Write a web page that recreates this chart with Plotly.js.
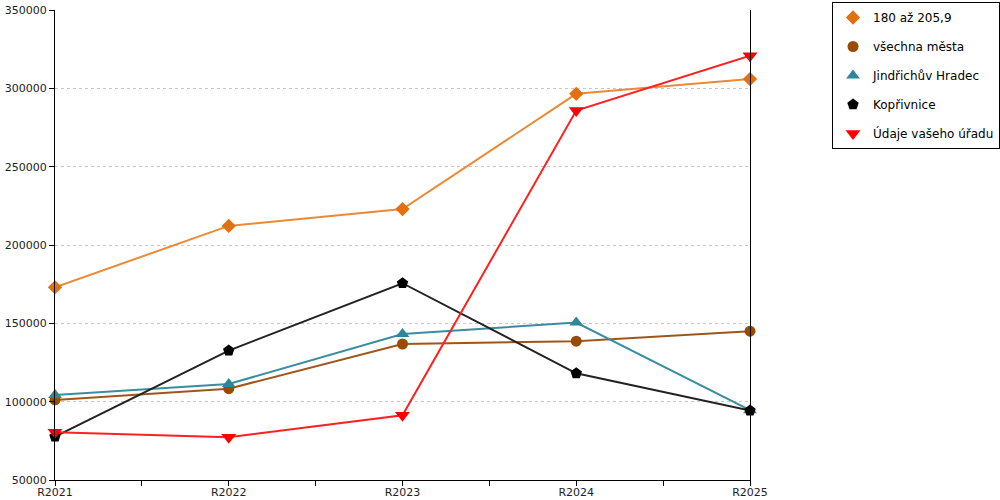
<!DOCTYPE html>
<html>
<head>
<meta charset="utf-8">
<script src="https://cdn.plot.ly/plotly-3.0.1.min.js"></script>
<style>body{margin:0;background:#fff}#chart{width:1000px;height:500px}</style>
</head>
<body>
<div id="chart"></div>
<script>
var years = ["R2021", "R2022", "R2023", "R2024", "R2025"];
var names = ["180 až 205,9", "všechna města", "Jindřichův Hradec", "Kopřivnice", "Údaje vašeho úřadu"];
var s180 = [173000, 212200, 222900, 296500, 305900];
var vsechna = [101100, 108300, 136800, 138600, 145000];
var jhradec = [104300, 111300, 143200, 150500, 94600];
var koprivnice = [77700, 132600, 175600, 118100, 94300];
var urad = [80500, 77300, 91300, 285800, 320800];

var series = [s180, vsechna, jhradec, koprivnice, urad];
var lineColors = ["#ea8a36", "#a0561a", "#3a8ca0", "#222222", "#ff2020"];
var markColors = ["#e07010", "#994c00", "#2f8599", "#000000", "#ff0000"];
var symbols = ["diamond", "circle", "triangle-up", "pentagon", "triangle-down"];
var sizes = [11, 11, 12, 12, 13];

var xs = years.map(function (y, i) { return i; });
var data = [];
// lines first so the markers sit on top
for (var i = 0; i < series.length; i++) {
    data.push({
        x: xs, y: series[i], type: "scatter", mode: "lines",
        line: {color: lineColors[i], width: 2},
        showlegend: false, hoverinfo: "skip", cliponaxis: false
    });
}
for (var i = 0; i < series.length; i++) {
    data.push({
        x: xs, y: series[i], type: "scatter", mode: "markers", name: names[i],
        legendgroup: "g" + i,
        marker: {color: markColors[i], symbol: symbols[i], size: sizes[i]},
        cliponaxis: false
    });
}

var tickv = [], tickt = [];
for (var i = 0; i < years.length; i++) {
    tickv.push(i); tickt.push(years[i]);
    if (i < years.length - 1) { tickv.push(i + 0.5); tickt.push(""); }
}

var layout = {
    width: 1000, height: 500,
    margin: {l: 55, r: 250, t: 10, b: 20, autoexpand: false},
    paper_bgcolor: "#fff", plot_bgcolor: "#fff",
    font: {family: "DejaVu Sans", size: 11, color: "#222"},
    xaxis: {
        range: [0, 4], tickvals: tickv, ticktext: tickt,
        showgrid: false, zeroline: false,
        showline: true, linecolor: "#000", linewidth: 1,
        ticks: "outside", ticklen: 5, tickcolor: "#000",
        ticklabelstandoff: -3
    },
    yaxis: {
        range: [50000, 350000], dtick: 50000, tickformat: "d",
        showgrid: true, gridcolor: "#c8c8c8", griddash: "dot", gridwidth: 1,
        zeroline: false, showline: true, linecolor: "#000", linewidth: 1,
        mirror: true,
        ticks: "outside", ticklen: 5, tickcolor: "#000"
    },
    legend: {
        x: 1.118, y: 1.017, xanchor: "left", yanchor: "top",
        bordercolor: "#000", borderwidth: 1, bgcolor: "#fff",
        font: {family: "DejaVu Sans", size: 12, color: "#000"},
        traceorder: "grouped", tracegroupgap: 10, itemwidth: 30
    },
    hovermode: false
};

Plotly.newPlot("chart", data, layout, {displayModeBar: false, staticPlot: true});
</script>
</body>
</html>
